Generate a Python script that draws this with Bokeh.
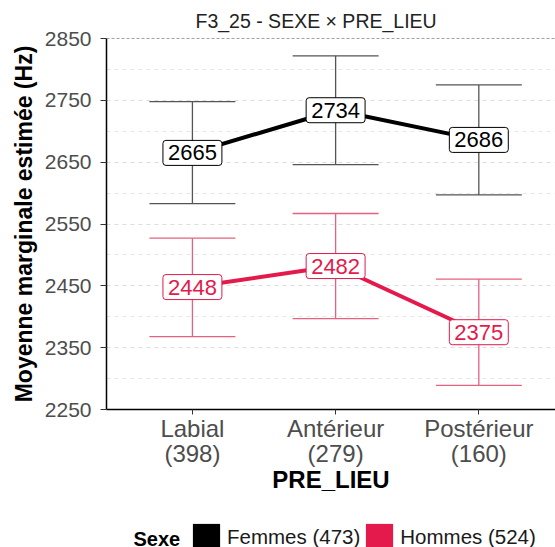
from bokeh.plotting import figure
from bokeh.layouts import column
from bokeh.models import (ColumnDataSource, Legend, LegendItem, Span, FixedTicker, Range1d, Label)
from bokeh.core.properties import value
from bokeh.embed import file_html
from bokeh.resources import INLINE

# ---------------- data ----------------
categories = ["Labial", "Antérieur", "Postérieur"]
cat_counts = [398, 279, 160]
femmes_mean = [2665, 2734, 2686]
femmes_low = [2583, 2646, 2597]
femmes_high = [2748, 2822, 2775]
hommes_mean = [2448, 2482, 2375]
hommes_low = [2368, 2397, 2289]
hommes_high = [2527, 2567, 2461]
femmes_n = 473
hommes_n = 524
y_ticks = [2250, 2350, 2450, 2550, 2650, 2750, 2850]
y_minor = [2300, 2400, 2500, 2600, 2700, 2800]

FONT = "Liberation Sans"
BLACK = "#000000"
CRIMSON = "#E31A4B"
CRIMSON_EB = "#E8607F"
GRAY_EB = "#555555"

xs = [i + 1 for i in range(len(categories))]
cap = 0.3

W, H1, H2 = 555, 515, 32
p = figure(width=W, height=H1, output_backend="svg", toolbar_location=None,
           x_range=Range1d(0.4, 0.4 + 449 / 143.2),
           y_range=Range1d(y_ticks[0], y_ticks[-1]),
           min_border_left=106, min_border_right=0, min_border_top=38,
           min_border_bottom=106)
p.outline_line_color = None
p.background_fill_color = "white"
p.border_fill_color = "white"

p.title.text = "F3_25 - SEXE \u00d7 PRE_LIEU"
p.title.text_font = FONT
p.title.text_font_size = "19.5px"
p.title.text_font_style = "normal"
p.title.text_color = "#222222"
p.title.align = "left"
p.title.offset = 89
p.title.standoff = 14

# grid
p.xgrid.grid_line_color = None
p.ygrid.ticker = FixedTicker(ticks=y_ticks, minor_ticks=y_minor)
p.ygrid.grid_line_color = "#DDDDDD"
p.ygrid.grid_line_dash = "4 4"
p.ygrid.grid_line_width = 1
p.ygrid.minor_grid_line_color = "#E6E6E6"
p.ygrid.minor_grid_line_dash = "4 4"
p.add_layout(Span(location=y_ticks[-1], dimension="width", line_color="#444444",
                  line_dash="3 2", line_width=1))

# axes
p.yaxis.ticker = FixedTicker(ticks=y_ticks)
p.yaxis.axis_label = "Moyenne marginale estimée (Hz)"
p.yaxis.axis_label_text_font = FONT
p.yaxis.axis_label_text_font_size = "23px"
p.yaxis.axis_label_text_font_style = "bold"
p.yaxis.axis_label_text_color = "black"
p.yaxis.axis_label_standoff = 5
p.yaxis.major_label_text_font = FONT
p.yaxis.major_label_text_font_size = "21px"
p.yaxis.major_label_text_color = "#4D4D4D"
p.yaxis.major_label_standoff = 9
p.yaxis.minor_tick_line_color = None
p.yaxis.major_tick_line_color = "#333333"
p.yaxis.major_tick_in = 0
p.yaxis.major_tick_out = 6
p.yaxis.axis_line_color = "black"
p.yaxis.axis_line_width = 1.5

p.xaxis.ticker = FixedTicker(ticks=xs)
p.xaxis.major_label_overrides = {x: f"{c}\n({n})" for x, c, n in zip(xs, categories, cat_counts)}
p.xaxis.axis_label = "PRE_LIEU"
p.xaxis.axis_label_text_font = FONT
p.xaxis.axis_label_text_font_size = "24px"
p.xaxis.axis_label_text_font_style = "bold"
p.xaxis.axis_label_text_color = "black"
p.xaxis.axis_label_standoff = -4
p.xaxis.major_label_text_font = FONT
p.xaxis.major_label_text_font_size = "24px"
p.xaxis.major_label_text_line_height = 0.93
p.xaxis.major_label_text_color = "#4D4D4D"
p.xaxis.major_label_standoff = 0
p.xaxis.minor_tick_line_color = None
p.xaxis.major_tick_line_color = "#333333"
p.xaxis.major_tick_in = 0
p.xaxis.major_tick_out = 5
p.xaxis.axis_line_color = "black"
p.xaxis.axis_line_width = 1.5

# sources
src_f = ColumnDataSource(dict(x=xs, m=femmes_mean, lo=femmes_low, hi=femmes_high,
                              x0=[x - cap for x in xs], x1=[x + cap for x in xs],
                              lab=[str(v) for v in femmes_mean]))
src_h = ColumnDataSource(dict(x=xs, m=hommes_mean, lo=hommes_low, hi=hommes_high,
                              x0=[x - cap for x in xs], x1=[x + cap for x in xs],
                              lab=[str(v) for v in hommes_mean]))

for src, ec in ((src_f, GRAY_EB), (src_h, CRIMSON_EB)):
    p.segment(x0="x", x1="x", y0="lo", y1="hi", source=src, line_color=ec, line_width=1.3)
    p.segment(x0="x0", x1="x1", y0="lo", y1="lo", source=src, line_color=ec, line_width=1.3)
    p.segment(x0="x0", x1="x1", y0="hi", y1="hi", source=src, line_color=ec, line_width=1.3)

p.line("x", "m", source=src_f, line_color=BLACK, line_width=4)
p.line("x", "m", source=src_h, line_color=CRIMSON, line_width=4)

for src, col in ((src_f, BLACK), (src_h, CRIMSON)):
    p.text(x="x", y="m", text="lab", source=src, text_align="center",
           text_baseline="middle", text_font=value(FONT), text_font_size=value("22px"),
           text_color=col, background_fill_color="white",
           border_line_color=col, border_line_width=1, padding=5,
           border_radius=3)

# legend strip (separate small figure under the plot)
p2 = figure(width=W, height=H2, output_backend="svg", toolbar_location=None,
            x_range=Range1d(0, 1), y_range=Range1d(0, 1),
            min_border=0, x_axis_type=None, y_axis_type=None)
p2.outline_line_color = None
p2.xgrid.visible = False
p2.ygrid.visible = False
nan = float("nan")
rf = p2.quad(left=[nan], right=[nan], top=[nan], bottom=[nan], fill_color=BLACK, line_color=None)
rh = p2.quad(left=[nan], right=[nan], top=[nan], bottom=[nan], fill_color=CRIMSON, line_color=None)
legend = Legend(items=[LegendItem(label=f"Femmes ({femmes_n})", renderers=[rf]),
                       LegendItem(label=f"Hommes ({hommes_n})", renderers=[rh])],
                orientation="horizontal", glyph_width=34, glyph_height=34,
                label_text_font=FONT, label_text_font_size="20.5px",
                label_text_color="#1A1A1A",
                label_standoff=4, spacing=2, padding=0, margin=0,
                border_line_color=None, background_fill_alpha=0,
                location=(83, -7))
p2.add_layout(legend)
p2.add_layout(Label(x=27, y=9, x_units="screen", y_units="screen", text="Sexe",
                    text_font=FONT, text_font_size="20px", text_font_style="bold",
                    text_color="black", text_baseline="alphabetic"))

layout = column(p, p2, spacing=0)
open("out.html", "w").write(file_html(layout, INLINE))
